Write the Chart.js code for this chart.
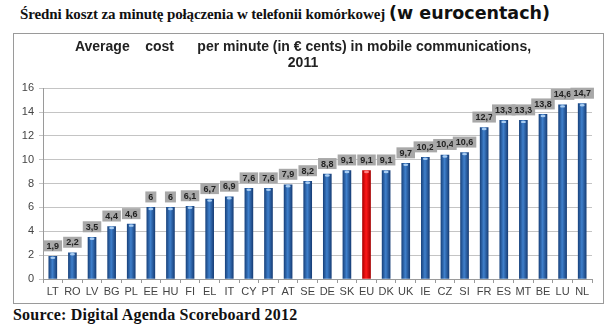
<!DOCTYPE html>
<html>
<head>
<meta charset="utf-8">
<script src="https://cdn.jsdelivr.net/npm/chart.js@4"></script>
<style>
  body { margin: 0; width: 611px; height: 326px; background: #fff; position: relative; overflow: hidden; }
  #naglowek { position: absolute; left: 20px; top: 3px; white-space: nowrap; color: #111; }
  #naglowek .pl { font: bold 15px "Liberation Serif", serif; letter-spacing: -0.12px; }
  #naglowek .eu { font: bold 17.5px "DejaVu Sans", sans-serif; }
  #ramka { position: absolute; left: 13px; top: 33px; width: 589px; height: 269px; border: 1px solid #9a9a9a; }
  #wykres { position: absolute; left: 0; top: 0; }
  #zrodlo { position: absolute; left: 13px; top: 306px; font: bold 16px "Liberation Serif", serif; letter-spacing: 0.2px; color: #111; white-space: nowrap; }
</style>
</head>
<body>
<div id="naglowek"><span class="pl">Średni koszt za minutę połączenia w telefonii komórkowej</span> <span class="eu">(w eurocentach)</span></div>
<div id="ramka"><canvas id="wykres" width="589" height="269"></canvas></div>
<div id="zrodlo">Source: Digital Agenda Scoreboard 2012</div>
<script>
// kraje i koszt minuty (eurocenty), 2011
var kraje = ['LT','RO','LV','BG','PL','EE','HU','FI','EL','IT','CY','PT','AT','SE','DE','SK','EU','DK','UK','IE','CZ','SI','FR','ES','MT','BE','LU','NL'];
var koszt = [1.9,2.2,3.5,4.4,4.6,6,6,6.1,6.7,6.9,7.6,7.6,7.9,8.2,8.8,9.1,9.1,9.1,9.7,10.2,10.4,10.6,12.7,13.3,13.3,13.8,14.6,14.7];
var tytul = ['Average    cost      per minute (in \u20ac cents) in mobile communications,', '2011'];

// gradient "walca" dla slupka, liczony z pozycji na osi x
function kolorSlupka(ctx) {
  var chart = ctx.chart;
  var czerwony = kraje[ctx.dataIndex] === 'EU';
  if (!chart.chartArea) return czerwony ? '#e01010' : '#2c68b0';
  var x = chart.scales.x.getPixelForValue(ctx.dataIndex);
  var g = chart.ctx.createLinearGradient(x - 4, 0, x + 4, 0);
  if (czerwony) {
    g.addColorStop(0, '#b00000');
    g.addColorStop(0.45, '#ff1a1a');
    g.addColorStop(1, '#a80000');
  } else {
    g.addColorStop(0, '#1a4580');
    g.addColorStop(0.45, '#3f80cc');
    g.addColorStop(1, '#183f78');
  }
  return g;
}

// szare etykiety z wartoscia nad slupkami + jasny "daszek"
var etykiety = {
  id: 'etykiety',
  afterDatasetsDraw: function(chart) {
    var c = chart.ctx;
    var meta = chart.getDatasetMeta(0);
    c.save();
    c.font = 'bold 9px "Liberation Sans", Arial, sans-serif';
    c.textAlign = 'center';
    c.textBaseline = 'middle';
    meta.data.forEach(function(bar, i) {
      // daszek
      c.fillStyle = kraje[i] === 'EU' ? '#ff8080' : '#a9cdf2';
      c.beginPath();
      c.ellipse(bar.x, bar.y + 1.5, 2.5, 1.2, 0, 0, Math.PI * 2);
      c.fill();

      var txt = String(koszt[i]).replace('.', ',');
      var w = c.measureText(txt).width + 6;
      var h = 11;
      var dol = bar.y - 5;
      c.fillStyle = '#a8a8a8';
      c.fillRect(bar.x - w / 2, dol - h, w, h);
      c.fillStyle = '#222';
      c.fillText(txt, bar.x, dol - h / 2 + 0.5);
    });
    c.restore();
  }
};

var ctx = document.getElementById('wykres').getContext('2d');
var wykres = new Chart(ctx, {
  type: 'bar',
  data: {
    labels: kraje,
    datasets: [{
      data: koszt,
      backgroundColor: kolorSlupka,
      barThickness: 8
    }]
  },
  options: {
    responsive: false,
    animation: false,
    events: [],
    layout: { padding: { left: 0, right: 11, top: 0, bottom: 0 } },
    plugins: {
      legend: { display: false },
      tooltip: { enabled: false },
      title: {
        display: true,
        text: tytul,
        color: '#222',
        font: { family: '"Liberation Sans", Arial, sans-serif', size: 14, weight: 'bold', lineHeight: 1.15 },
        padding: { top: 5, bottom: 17 }
      }
    },
    scales: {
      x: {
        grid: { display: true, drawOnChartArea: false, tickLength: 4, color: '#9a9a9a' },
        border: { color: '#9a9a9a' },
        ticks: { color: '#444', padding: 2, font: { family: '"Liberation Sans", Arial, sans-serif', size: 11 }, maxRotation: 0, autoSkip: false },
        afterFit: function(s) { s.height = 24; }
      },
      y: {
        min: 0,
        max: 16,
        grid: { color: '#c4c4c4', tickLength: 4 },
        border: { color: '#9a9a9a' },
        ticks: { stepSize: 2, color: '#444', padding: 5, font: { family: '"Liberation Sans", Arial, sans-serif', size: 11 } },
        afterFit: function(s) { s.width = 29; }
      }
    }
  },
  plugins: [etykiety]
});
</script>
</body>
</html>
